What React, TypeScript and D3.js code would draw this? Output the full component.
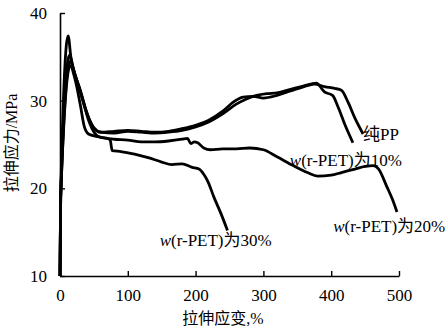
import React, { useEffect, useRef } from "react"
import * as d3 from "d3"

// strain (%) / stress (MPa)
const ppCurve: [number, number][] = [
  [0, 10], [1, 19], [12, 37.4], [16, 35], [22, 33], [30, 31.2], [38, 29], [45, 27.5], [52, 26.7],
  [60, 26.4], [80, 26.5], [100, 26.6], [120, 26.5], [140, 26.4], [160, 26.5], [180, 26.8],
  [200, 27.2], [220, 27.8], [240, 28.8], [255, 29.8], [270, 30.4], [285, 30.5], [300, 30.3],
  [320, 30.6], [340, 31.1], [360, 31.6], [375, 31.9], [390, 31.6], [405, 31.4], [415, 31.2],
  [425, 29.8], [435, 28], [447, 26.2]
]
const pet10Curve: [number, number][] = [
  [0, 10], [1, 19], [14, 35.2], [20, 33.5], [30, 31], [40, 28.5], [50, 26.9], [60, 26.4],
  [80, 26.3], [100, 26.5], [120, 26.4], [140, 26.3], [160, 26.4], [180, 26.6], [200, 27],
  [220, 27.6], [240, 28.5], [260, 29.6], [275, 30.2], [290, 30.6], [305, 30.8], [320, 30.9],
  [340, 31.3], [360, 31.7], [378, 32], [390, 31], [402, 30.6], [410, 29.3], [420, 27.3], [432, 25.2]
]
const pet20Curve: [number, number][] = [
  [0, 10], [1, 19], [15, 34.5], [22, 33], [32, 30.5], [42, 27.8], [52, 26.2], [60, 25.8],
  [80, 25.6], [100, 25.5], [120, 25.3], [140, 25.3], [160, 25.4], [180, 25.6], [188, 25.7],
  [193, 25.1], [198, 25.3], [203, 25.2], [212, 24.6], [222, 24.4], [240, 24.5], [260, 24.5],
  [280, 24.6], [300, 24.4], [320, 23.6], [344, 22.6], [365, 21.8], [380, 21.4], [400, 21.5],
  [415, 21.8], [435, 22.2], [450, 22.5], [462, 22.6], [470, 22.2], [482, 20.2], [490, 18.8], [497, 17.3]
]
const pet30Curve: [number, number][] = [
  [0, 10], [1, 19], [15, 34], [22, 32.5], [30, 29.5], [36, 27], [42, 26.2], [55, 25.9],
  [70, 25.7], [74, 25.5], [77, 24.3], [90, 24.2], [110, 23.9], [130, 23.5], [150, 23],
  [165, 22.7], [180, 22.8], [195, 22.4], [205, 22.2], [212, 21.6], [218, 20.8], [227, 19],
  [237, 17.2], [247, 15.2]
]

const xTicks = [0, 100, 200, 300, 400, 500]
const yTicks = [10, 20, 30, 40]

// curve labels: text, where it sits (strain, stress)
const curveLabels = [
  { text: "纯PP", at: [447, 25.5] },
  { text: "为10%", pre: "r-PET", at: [339, 22.5] },
  { text: "为20%", pre: "r-PET", at: [403, 15] },
  { text: "为30%", pre: "r-PET", at: [147, 13.4] }
]

const FONT = "'Liberation Serif', 'Times New Roman', 'Noto Sans CJK SC', serif"

export default function App() {
  const ref = useRef<SVGSVGElement>(null)

  useEffect(() => {
    const svg = d3.select(ref.current)
    svg.selectAll("*").remove()

    const x = d3.scaleLinear().domain([0, 500]).range([60, 399])
    const y = d3.scaleLinear().domain([10, 40]).range([276, 13])

    const xAxis = d3.axisBottom(x).tickValues(xTicks).tickSize(-5).tickSizeOuter(0).tickPadding(13)
    const yAxis = d3.axisLeft(y).tickValues(yTicks).tickSize(-5).tickSizeOuter(0).tickPadding(13)

    const gx = svg.append("g").attr("transform", "translate(0,276)").call(xAxis)
    const gy = svg.append("g").attr("transform", "translate(60,0)").call(yAxis)
    for (const g of [gx, gy]) {
      g.attr("font-family", FONT).attr("font-size", 17)
      g.select(".domain").attr("stroke", "#000").attr("stroke-width", 1.6)
      g.selectAll(".tick line").attr("stroke", "#000").attr("stroke-width", 1.4)
      g.selectAll(".tick text")
        .attr("fill", "#000")
        .attr("font-family", FONT)
        .style("font-family", FONT)
        .style("font-size", "17px")
    }

    const line = d3.line<[number, number]>()
      .x(d => x(d[0]))
      .y(d => y(d[1]))
      .curve(d3.curveMonotoneX)

    svg.selectAll("path.curve")
      .data([pet30Curve, pet20Curve, pet10Curve, ppCurve])
      .enter()
      .append("path")
      .attr("class", "curve")
      .attr("d", d => line(d))
      .attr("fill", "none")
      .attr("stroke", "#000")
      .attr("stroke-width", 2.8)
      .attr("stroke-linejoin", "round")

    curveLabels.forEach(l => {
      const t = svg.append("text")
        .attr("x", x(l.at[0]))
        .attr("y", y(l.at[1]))
        .style("font-family", FONT)
        .style("font-size", "17px")
        .attr("fill", "#000")
      if (l.pre) {
        t.append("tspan").attr("font-style", "italic").text("w")
        t.append("tspan").text("(" + l.pre + ")")
      }
      t.append("tspan").text(l.text)
    })

    // axis titles
    svg.append("text")
      .attr("x", 223)
      .attr("y", 324)
      .attr("text-anchor", "middle")
      .style("font-family", FONT)
      .style("font-size", "16px")
      .text("拉伸应变,%")

    svg.append("text")
      .attr("transform", "translate(17,143) rotate(-90)")
      .attr("text-anchor", "middle")
      .style("font-family", FONT)
      .style("font-size", "16px")
      .text("拉伸应力/MPa")
  }, [])

  return (
    <svg
      ref={ref}
      width={448}
      height={331}
      style={{ position: "absolute", left: 0, top: 0, background: "#fff" }}
    />
  )
}
